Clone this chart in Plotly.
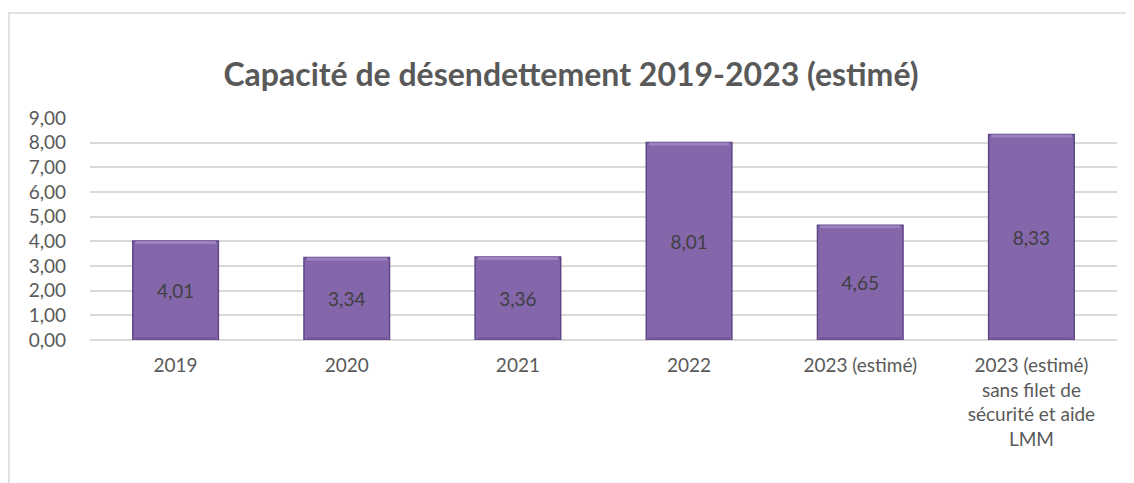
import plotly.graph_objects as go

categories = ["2019", "2020", "2021", "2022", "2023 (estimé)",
              "2023 (estimé)<br>sans filet de<br>sécurité et aide<br>LMM"]
values = [4.01, 3.34, 3.36, 8.01, 4.65, 8.33]
labels = ["4,01", "3,34", "3,36", "8,01", "4,65", "8,33"]
y_ticks = [0, 1, 2, 3, 4, 5, 6, 7, 8, 9]
y_ticklabels = ["0,00", "1,00", "2,00", "3,00", "4,00", "5,00", "6,00", "7,00", "8,00", "9,00"]
title = "Capacité de désendettement 2019-2023 (estimé)"

# the page body has an 8px margin, so the figure is drawn 8px in from the window edge
OFF = 8
W, H = 1134 - OFF, 483 - OFF
L, R, T, B = 90 - OFF, 17, 118 - OFF, 143
FONT = "Lato"
BEVEL = 0.12

fig = go.Figure()
fig.add_trace(go.Bar(
    x=categories, y=values, text=labels,
    textposition="inside", insidetextanchor="middle",
    textfont=dict(family=FONT, size=19, color="#404040"),
    marker=dict(color="#8466ab", line=dict(color="#5e4687", width=1.5)),
    width=0.5, hoverinfo="skip",
))
# bevel highlight at the top of each bar
fig.add_trace(go.Bar(
    x=categories, y=[BEVEL] * len(values), base=[v - BEVEL for v in values],
    marker=dict(color="#9c82c0", line=dict(width=0)),
    width=0.47, hoverinfo="skip",
))
# darker band at the bottom of each bar
fig.add_trace(go.Bar(
    x=categories, y=[BEVEL * 0.8] * len(values), base=[0.02] * len(values),
    marker=dict(color="#72559a", line=dict(width=0)),
    width=0.47, hoverinfo="skip",
))

pw, ph = W - L - R, H - T - B
fig.update_layout(
    width=W, height=H,
    margin=dict(l=L, r=R, t=T, b=B),
    paper_bgcolor="white", plot_bgcolor="white",
    showlegend=False, barmode="overlay",
    title=dict(text=f"<b>{title}</b>", x=0.5, xanchor="center",
               y=1 - (75 - OFF) / H, yanchor="middle", yref="container",
               font=dict(family=FONT, size=32, color="#595959")),
    xaxis=dict(showgrid=False, showline=False, ticks="", ticklabelstandoff=12,
               tickfont=dict(family=FONT, size=19, color="#595959")),
    yaxis=dict(range=[0, 9], tickvals=y_ticks, ticktext=y_ticklabels,
               showgrid=True, gridcolor="#d9d9d9", gridwidth=1.5,
               zeroline=True, zerolinecolor="#d9d9d9", zerolinewidth=1.5,
               showline=False, ticks="", ticklabelstandoff=23,
               tickfont=dict(family=FONT, size=19, color="#595959")),
    shapes=[
        dict(type="line", xref="paper", yref="paper",
             x0=(0 - L) / pw, x1=(W - L + 5) / pw,
             y0=1 + (T - 5) / ph, y1=1 + (T - 5) / ph,
             line=dict(color="#d9d9d9", width=1.5)),
        dict(type="line", xref="paper", yref="paper",
             x0=(1 - L) / pw, x1=(1 - L) / pw,
             y0=1 + (T - 5) / ph, y1=-(B + 5) / ph,
             line=dict(color="#d9d9d9", width=1.5)),
    ],
)
fig.write_html("out.html")
